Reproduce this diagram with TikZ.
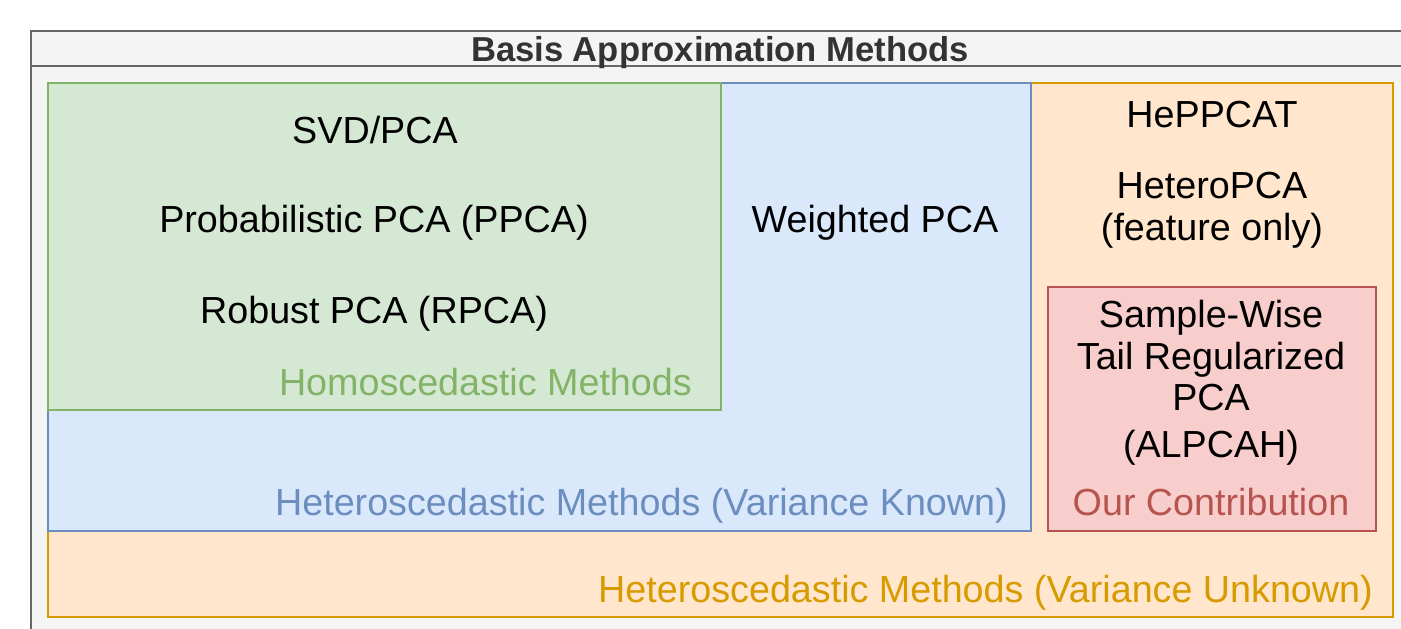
\documentclass[tikz,border=0pt]{standalone}
\usepackage{fontspec}
\setmainfont{Liberation Sans}

\definecolor{framegray}{HTML}{666666}
\definecolor{framefill}{HTML}{F4F4F4}
\definecolor{titlegray}{HTML}{333333}
\definecolor{homofill}{HTML}{D5E8D4}
\definecolor{homoline}{HTML}{82B366}
\definecolor{knownfill}{HTML}{DAE8FC}
\definecolor{knownline}{HTML}{6C8EBF}
\definecolor{unknownfill}{HTML}{FFE6CC}
\definecolor{unknownline}{HTML}{D79B00}
\definecolor{oursfill}{HTML}{F8CECC}
\definecolor{oursline}{HTML}{B85450}

\begin{document}
\begin{tikzpicture}[x=1pt,y=-1pt,
        region/.style={line width=1.6pt},
        method/.style={font=\fontsize{37.7}{41.5}\selectfont, inner sep=0pt, anchor=base, align=center},
        caption/.style={method, anchor=base east}]
    \useasboundingbox (0,0) rectangle (1401,629);
    \fill[white] (0,0) rectangle (1401,629);
    \clip (0,0) rectangle (1401,629);
    % outer frame with title bar
    \draw[line width=2pt, draw=framegray, fill=framefill] (31,31) rectangle (1410,660);
    \draw[line width=2pt, draw=framegray] (31,66) -- (1410,66);
    \node[font=\bfseries\fontsize{34.6}{40}\selectfont, text=titlegray, inner sep=0pt, anchor=base] (title) at (720,61) {Basis Approximation Methods};
    % nested regions
    \draw[region, draw=unknownline, fill=unknownfill] (48,83) rectangle (1393,617);
    \draw[region, draw=knownline, fill=knownfill] (48,83) rectangle (1031,531);
    \draw[region, draw=homoline, fill=homofill] (48,83) rectangle (721,410);
    \draw[region, draw=oursline, fill=oursfill] (1048,287) rectangle (1376,531);
    % homoscedastic methods
    \node[method] (svd) at (375,143) {SVD/PCA};
    \node[method] (ppca) at (374,232) {Probabilistic PCA (PPCA)};
    \node[method] (rpca) at (374,323) {Robust PCA (RPCA)};
    \node[caption, text=homoline] (homo) at (692,395) {Homoscedastic Methods};
    % variance known
    \node[method] (wpca) at (875,232) {Weighted PCA};
    \node[caption, text=knownline] (known) at (1008,515) {Heteroscedastic Methods (Variance Known)};
    % variance unknown
    \node[method] (heppcat) at (1212,127) {HePPCAT};
    \node[method] (hetero) at (1212,240) {HeteroPCA\\(feature only)};
    \node[method] (alpcah) at (1211,457) {Sample-Wise\\Tail Regularized\\PCA\\[5pt](ALPCAH)};
    \node[caption, anchor=base, text=oursline] (ours) at (1211,515) {Our Contribution};
    \node[caption, text=unknownline] (unknown) at (1373,602) {Heteroscedastic Methods (Variance Unknown)};
\end{tikzpicture}
\end{document}
